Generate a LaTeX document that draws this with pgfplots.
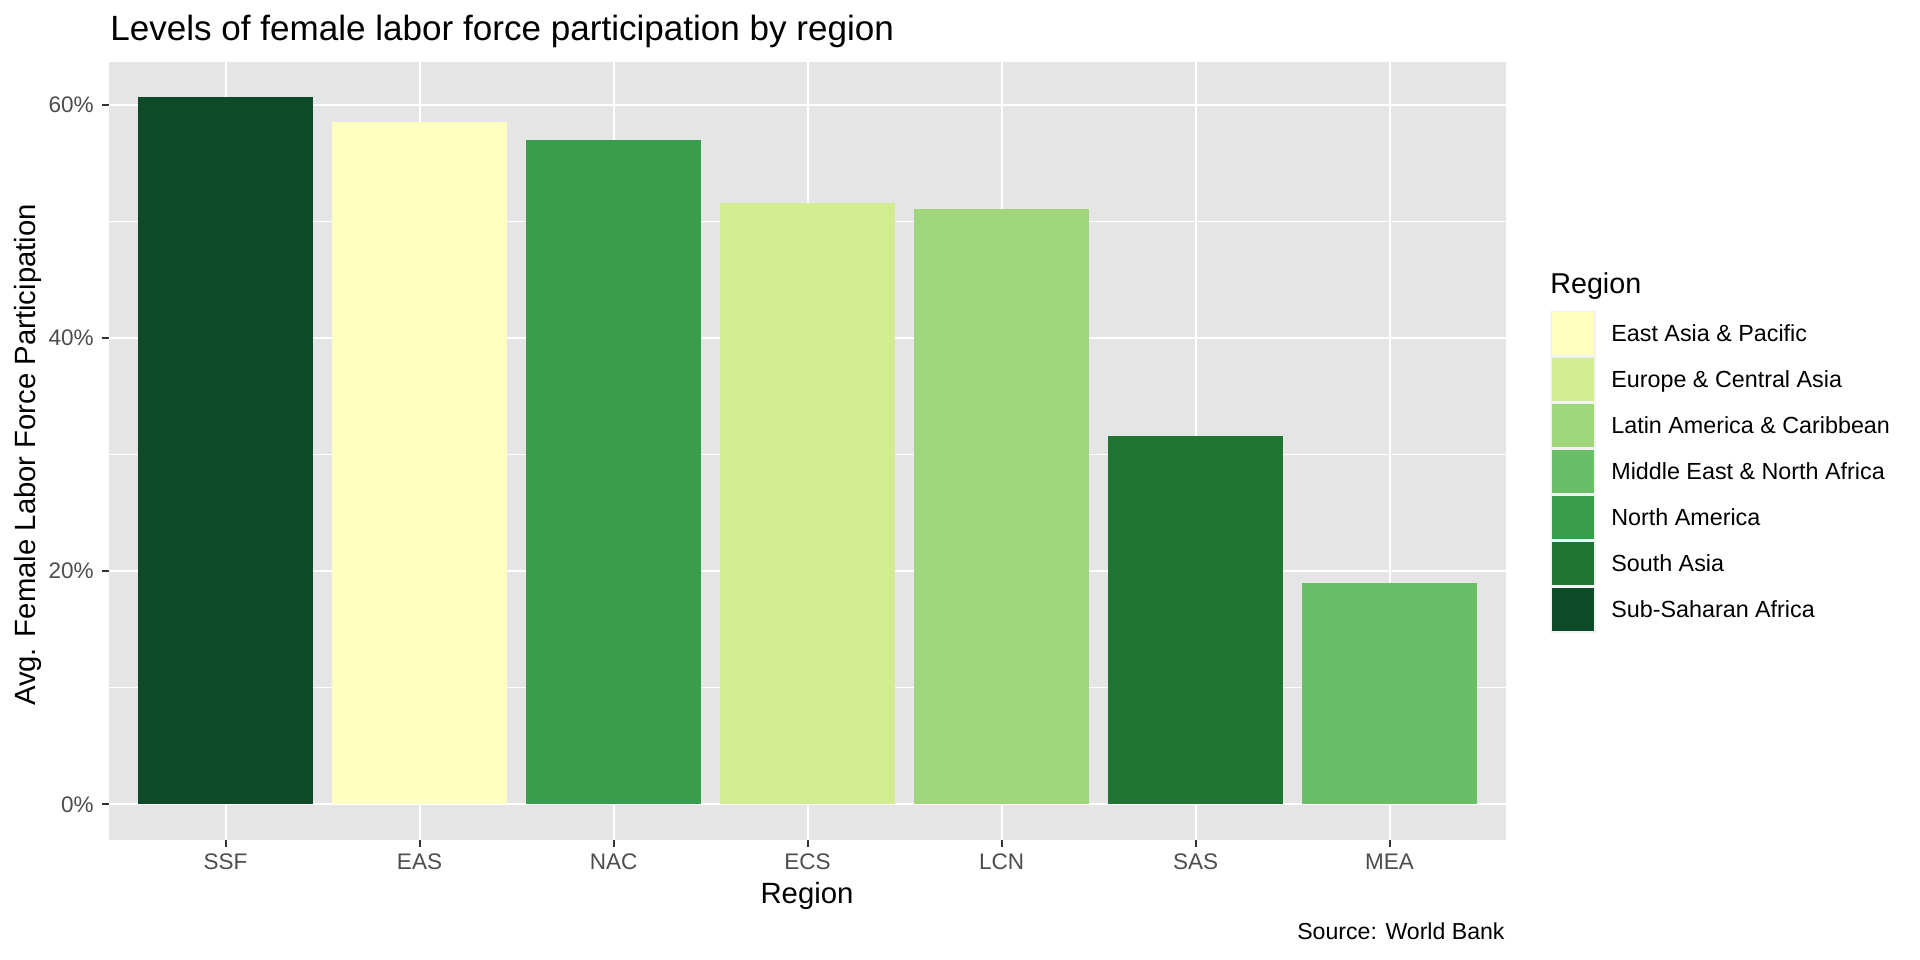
\documentclass[border=0pt]{standalone}
\usepackage{fontspec}
\setmainfont{Liberation Sans}
\usepackage{pgfplots}
\pgfplotsset{compat=1.18}
\definecolor{cSSF}{HTML}{0C4A28}
\definecolor{cEAS}{HTML}{FFFFC2}
\definecolor{cNAC}{HTML}{389E4C}
\definecolor{cECS}{HTML}{D2ED91}
\definecolor{cLCN}{HTML}{9FD67B}
\definecolor{cSAS}{HTML}{207535}
\definecolor{cMEA}{HTML}{6ABE68}
\definecolor{panelgray}{HTML}{E5E5E5}
\definecolor{keygray}{HTML}{F2F2F2}
\definecolor{tickgray}{HTML}{333333}
\definecolor{labelgray}{HTML}{4D4D4D}
\begin{document}
\begin{tikzpicture}
\path[use as bounding box, fill=white] (0,0) rectangle (960bp,480bp);
\begin{axis}[
  at={(54.55bp,60.15bp)}, anchor=south west,
  scale only axis, width=698.45bp, height=388.85bp,
  xmin=0.4, xmax=7.6, ymin=-3.03, ymax=63.67,
  axis background/.style={fill=panelgray},
  axis line style={draw=none},
  xtick={1,2,3,4,5,6,7},
  xticklabels={SSF,EAS,NAC,ECS,LCN,SAS,MEA},
  ytick={0,20,40,60},
  yticklabels={0\%,20\%,40\%,60\%},
  minor ytick={10,30,50},
  grid=both,
  major grid style={white, line width=1bp},
  minor grid style={white, line width=0.5bp},
  tick align=outside, tick pos=left,
  major tick length=3.7bp, minor tick length=0pt,
  every tick/.style={draw=tickgray, line width=1bp},
  tick label style={font=\fontsize{11.3}{13}\selectfont, text=labelgray, inner sep=0pt},
  yticklabel style={anchor=east, xshift=-3.85bp},
  xticklabel style={anchor=north, yshift=-3.1bp},
]
\addplot[ybar, bar width=0.9, fill=cSSF, draw=none] coordinates {(1,60.64)};
\addplot[ybar, bar width=0.9, fill=cEAS, draw=none] coordinates {(2,58.49)};
\addplot[ybar, bar width=0.9, fill=cNAC, draw=none] coordinates {(3,56.95)};
\addplot[ybar, bar width=0.9, fill=cECS, draw=none] coordinates {(4,51.56)};
\addplot[ybar, bar width=0.9, fill=cLCN, draw=none] coordinates {(5,51.05)};
\addplot[ybar, bar width=0.9, fill=cSAS, draw=none] coordinates {(6,31.57)};
\addplot[ybar, bar width=0.9, fill=cMEA, draw=none] coordinates {(7,18.97)};
\end{axis}
\begin{scope}[x=0.5bp, y=-0.5bp, yshift=480bp]
  \node[anchor=base west, inner sep=0pt, font=\fontsize{17.6}{21}\selectfont] at (110,40.7) {Levels of female labor force participation by region};
  \node[anchor=base, inner sep=0pt, font=\fontsize{14.7}{17}\selectfont] at (807,903.3) {Region};
  \node[anchor=base, inner sep=0pt, rotate=90, font=\fontsize{14.7}{17}\selectfont] at (35,455) {Avg. Female Labor Force Participation};
  \node[anchor=base east, inner sep=0pt, font=\fontsize{11.6}{13}\selectfont] at (1505,940) {Source: World Bank};
  \node[anchor=base west, inner sep=0pt, font=\fontsize{14.4}{17}\selectfont] at (1550,293.3) {Region};
  \foreach \c/\t [count=\i from 0] in {cEAS/East Asia \& Pacific, cECS/Europe \& Central Asia, cLCN/Latin America \& Caribbean, cMEA/Middle East \& North Africa, cNAC/North America, cSAS/South Asia, cSSF/Sub-Saharan Africa} {
    \fill[keygray] (1550.5,310.7+46*\i) rectangle (1596,356.7+46*\i);
    \fill[\c] (1552.2,312.4+46*\i) rectangle (1594.3,355+46*\i);
    \node[anchor=base west, inner sep=0pt, font=\fontsize{11.7}{13}\selectfont] at (1611,341.7+46*\i) {\t};
  }
\end{scope}
\end{tikzpicture}
\end{document}
